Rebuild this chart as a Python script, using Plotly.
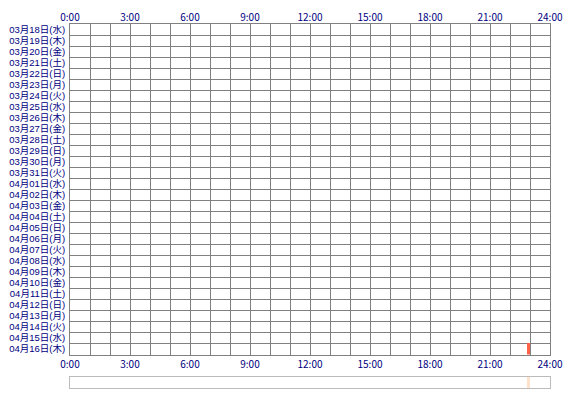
import plotly.graph_objects as go

# days shown as rows (top to bottom)
days = ["03月18日(水)", "03月19日(木)", "03月20日(金)", "03月21日(土)", "03月22日(日)",
        "03月23日(月)", "03月24日(火)", "03月25日(水)", "03月26日(木)", "03月27日(金)",
        "03月28日(土)", "03月29日(日)", "03月30日(月)", "03月31日(火)", "04月01日(水)",
        "04月02日(木)", "04月03日(金)", "04月04日(土)", "04月05日(日)", "04月06日(月)",
        "04月07日(火)", "04月08日(水)", "04月09日(木)", "04月10日(金)", "04月11日(土)",
        "04月12日(日)", "04月13日(月)", "04月14日(火)", "04月15日(水)", "04月16日(木)"]

# activity blocks: day, start hour, end hour
act_days = ["04月16日(木)"]
act_start = [22.83]
act_end = [23.0]

hours = list(range(0, 25))
hour_labels = ["%d:00" % h if h % 3 == 0 else "" for h in hours]

NAVY = "#000080"
GRID = "#808080"
font = dict(family="Noto Sans CJK JP", size=10, color=NAVY)
day_font = dict(family="Liberation Sans, Noto Sans CJK JP", size=9.5, color=NAVY)

fig = go.Figure()

fig.add_trace(go.Bar(
    y=act_days,
    x=[e - s for s, e in zip(act_start, act_end)],
    base=act_start,
    orientation="h",
    width=1,
    marker_color="#FF6347",
    marker_line_width=0,
    xaxis="x", yaxis="y",
    showlegend=False,
    hoverinfo="skip"
))

# invisible trace so the top axis gets drawn
fig.add_trace(go.Scatter(
    x=[0, 24], y=[days[0], days[0]],
    mode="markers", marker_opacity=0,
    xaxis="x3", yaxis="y",
    showlegend=False, hoverinfo="skip"
))

# overview bar underneath
fig.add_trace(go.Bar(
    y=[0],
    x=[e - s for s, e in zip(act_start, act_end)],
    base=act_start,
    orientation="h",
    width=1,
    marker_color="#FFE2CC",
    marker_line_width=0,
    xaxis="x2", yaxis="y2",
    showlegend=False,
    hoverinfo="skip"
))

fig.update_layout(
    width=570, height=400,
    margin=dict(l=70, r=20, t=24, b=12),
    paper_bgcolor="white", plot_bgcolor="white",
    font=font,
    xaxis=dict(
        domain=[0, 1], anchor="y", range=[0, 24],
        tickmode="array", tickvals=hours, ticktext=hour_labels,
        showgrid=True, gridcolor=GRID, gridwidth=1,
        showline=True, linecolor=GRID, linewidth=1, mirror=True,
        ticks="", zeroline=False, tickfont=font, automargin=False,
    ),
    xaxis3=dict(
        overlaying="x", side="top", anchor="y", range=[0, 24],
        tickmode="array", tickvals=hours, ticktext=hour_labels,
        showgrid=False, ticks="", zeroline=False, tickfont=font,
        automargin=False,
    ),
    yaxis=dict(
        domain=[0.092, 1], anchor="x",
        type="category", categoryorder="array", categoryarray=days,
        tickmode="array", tickvals=days,
        autorange=False, range=[len(days) - 0.5, -0.5],
        tickson="boundaries",
        showgrid=True, gridcolor=GRID, gridwidth=1,
        showline=True, linecolor=GRID, linewidth=1, mirror=True,
        ticks="", zeroline=False, tickfont=day_font, automargin=False,
        ticklabelstandoff=2,
    ),
    xaxis2=dict(
        domain=[0, 1], anchor="y2", range=[0, 24],
        showticklabels=False, showgrid=False, ticks="", zeroline=False,
        showline=True, linecolor="#BBBBBB", linewidth=1, mirror=True,
        automargin=False,
    ),
    yaxis2=dict(
        domain=[0, 0.03], anchor="x2", range=[-0.5, 0.5],
        showticklabels=False, showgrid=False, ticks="", zeroline=False,
        showline=True, linecolor="#BBBBBB", linewidth=1, mirror=True,
        automargin=False,
    ),
    bargap=0,
)

fig.write_html("out.html", config={"displayModeBar": False},
               post_script="document.body.style.margin='0';")
